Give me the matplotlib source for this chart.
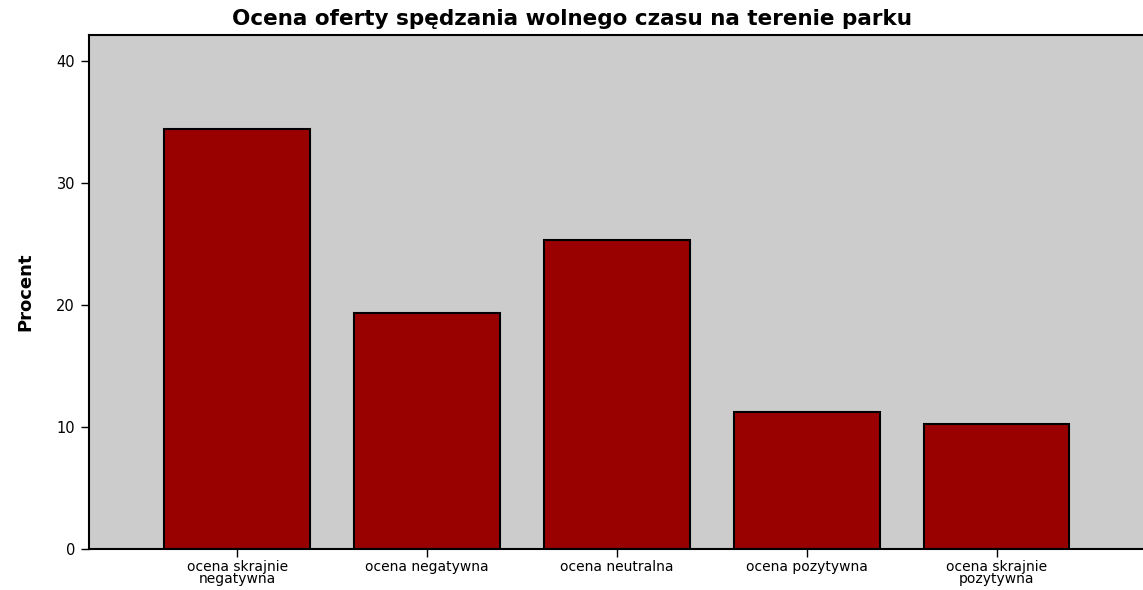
import matplotlib
matplotlib.use("Agg")
import matplotlib.pyplot as plt

# Values
categories = [
    "ocena skrajnie\nnegatywna",
    "ocena negatywna",
    "ocena neutralna",
    "ocena pozytywna",
    "ocena skrajnie\npozytywna",
]
percent = [34.4, 19.3, 25.3, 11.2, 10.2]
y_ticks = [0, 10, 20, 30, 40]

plt.rcParams["font.family"] = ["DejaVu Sans"]

fig = plt.figure(figsize=(11.43, 5.9), dpi=100)
ax = fig.add_axes([89 / 1143, 41 / 590, 1.005 - 89 / 1143, 514 / 590])
ax.set_facecolor("#cccccc")

x_pos = range(len(categories))
ax.bar(x_pos, percent, width=0.765, color="#990000", edgecolor="black", linewidth=1.5)

ax.set_xlim(-0.78, 4.80)
ax.set_ylim(0, 42.1)
ax.set_yticks(y_ticks)
ax.set_yticklabels([str(t) for t in y_ticks], fontsize=10.5)
ax.set_xticks(list(x_pos))
ax.set_xticklabels(categories, fontsize=10, linespacing=0.8)
ax.tick_params(axis="y", direction="out", length=6, width=1, color="black", pad=4)
ax.tick_params(axis="x", direction="out", length=6, width=1, color="black", pad=2)

for side in ["left", "bottom", "top", "right"]:
    ax.spines[side].set_linewidth(1.5)

ax.set_ylabel("Procent", fontsize=13, fontweight="bold", labelpad=16)
fig.text(0.5, 0.968, "Ocena oferty spędzania wolnego czasu na terenie parku",
         ha="center", va="center", fontsize=15.5, fontweight="bold")

plt.savefig("out.png", dpi=100)
